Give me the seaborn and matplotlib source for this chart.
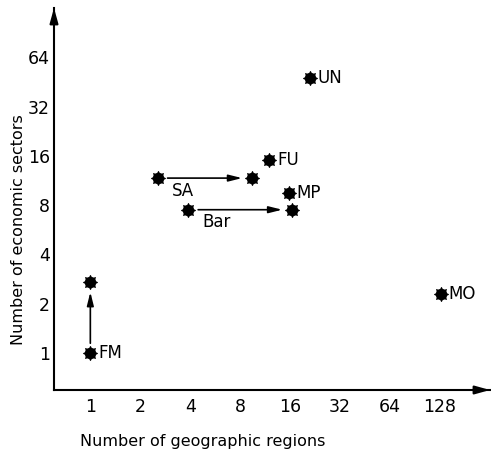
import matplotlib
matplotlib.use("Agg")
import matplotlib.pyplot as plt
import seaborn as sns
import pandas as pd

# Data
labels = ["FM", "", "MO", "UN", "FU", "MP", "", "", "", ""]
regions = [1, 1, 130, 21, 12, 15.7, 2.55, 9.4, 3.9, 16.4]
sectors = [1, 2.7, 2.3, 48, 15, 9.5, 11.7, 11.7, 7.5, 7.5]
# arrows: (start index, end index, arrow label)
arrows = [(0, 1, ""), (6, 7, "SA"), (8, 9, "Bar")]
x_ticks = [1, 2, 4, 8, 16, 32, 64, 128]
y_ticks = [1, 2, 4, 8, 16, 32, 64]

sns.set_style("white")
plt.rcParams["font.family"] = ["DejaVu Sans"]

df = pd.DataFrame({"regions": regions, "sectors": sectors, "label": labels})

fig = plt.figure(figsize=(4.91, 4.53), dpi=100)
ax = fig.add_axes([54 / 491, 63 / 453, 436 / 491, 382 / 453])
ax.set_xscale("log", base=2)
ax.set_yscale("log", base=2)
ax.set_xlim(0.604, 256)
ax.set_ylim(0.594, 128)

sns.scatterplot(data=df, x="regions", y="sectors", ax=ax, marker=(8, 1, 0),
                s=100, color="black", edgecolor="black", linewidth=0.8, zorder=3)
sns.scatterplot(data=df, x="regions", y="sectors", ax=ax, marker="o",
                s=70, color="black", linewidth=0, zorder=3)

for i, lab in enumerate(labels):
    if lab:
        ax.annotate(lab, (regions[i], sectors[i]), xytext=(5.5, 0),
                    textcoords="offset points", ha="left", va="center",
                    fontsize=12, color="black")

for s, e, lab in arrows:
    ax.annotate("", xy=(regions[e], sectors[e]), xytext=(regions[s], sectors[s]),
                arrowprops=dict(arrowstyle="-|>,head_length=0.8,head_width=0.2",
                                color="black", lw=1.2, shrinkA=7, shrinkB=7))
    if lab:
        ax.annotate(lab, (regions[s], sectors[s]), xytext=(10, -9),
                    textcoords="offset points", ha="left", va="center",
                    fontsize=12, color="black")

ax.set_xticks(x_ticks)
ax.set_xticklabels([str(v) for v in x_ticks])
ax.set_yticks(y_ticks)
ax.set_yticklabels([str(v) for v in y_ticks])
ax.minorticks_off()
ax.tick_params(axis="both", direction="in", length=5, width=1.3, labelsize=12.5,
               colors="black")
ax.tick_params(axis="x", pad=6)
ax.tick_params(axis="y", pad=3)

for sp in ["top", "right"]:
    ax.spines[sp].set_visible(False)
for sp in ["left", "bottom"]:
    ax.spines[sp].set_linewidth(1.5)
    ax.spines[sp].set_color("black")

# arrow heads at the axis ends
ax.annotate("", xy=(1.0, 0), xytext=(0.96, 0), xycoords="axes fraction",
            arrowprops=dict(arrowstyle="-|>,head_length=0.9,head_width=0.25",
                            color="black", lw=1.5, shrinkA=0, shrinkB=0),
            annotation_clip=False)
ax.annotate("", xy=(0, 1.0), xytext=(0, 0.96), xycoords="axes fraction",
            arrowprops=dict(arrowstyle="-|>,head_length=0.9,head_width=0.25",
                            color="black", lw=1.5, shrinkA=0, shrinkB=0),
            annotation_clip=False)

ax.set_xlabel("Number of geographic regions", fontsize=11.5, color="black")
ax.set_ylabel("Number of economic sectors", fontsize=11.5, color="black")
ax.xaxis.set_label_coords(0.342, -0.134)
ax.yaxis.set_label_coords(-0.081, 0.419)
ax.xaxis.label.set_va("center")
ax.yaxis.label.set_va("center")

fig.savefig("out.png", dpi=100)
